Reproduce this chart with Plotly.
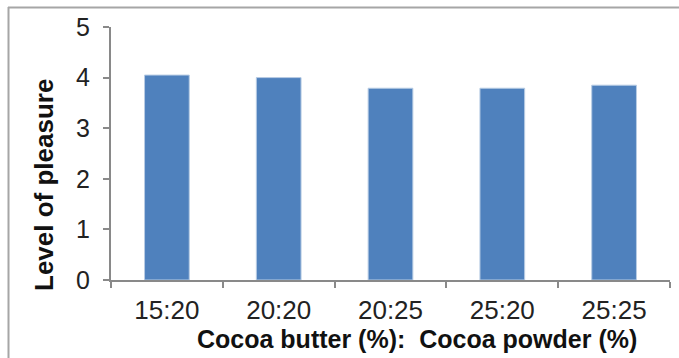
import plotly.graph_objects as go

categories = ["15:20", "20:20", "20:25", "25:20", "25:25"]
pleasure = [4.05, 4.0, 3.79, 3.79, 3.85]
y_ticks = [0, 1, 2, 3, 4, 5]

W, H = 679, 358
L, R, T, B = 111, 9, 27, 78
pw, ph = W - L - R, H - T - B

def px_x(px):
    return (px - L) / pw

def px_y(py):
    return (H - B - py) / ph

fig = go.Figure(go.Bar(
    x=categories, y=pleasure,
    marker=dict(color="#4F81BD", line=dict(color="#B8CCE4", width=1)),
    width=0.4,
))

fig.update_layout(
    width=W, height=H,
    margin=dict(l=L, r=R, t=T, b=B),
    paper_bgcolor="white", plot_bgcolor="white",
    showlegend=False,
    font=dict(family="Liberation Sans, Arial, sans-serif", color="#222222"),
    xaxis=dict(
        showline=True, linecolor="#898989", linewidth=2,
        ticks="outside", tickson="boundaries", ticklen=6, tickcolor="#898989", tickwidth=2,
        tickfont=dict(size=26, color="#222222"), ticklabelstandoff=6,
        showgrid=False, zeroline=False,
    ),
    yaxis=dict(
        range=[0, 5], tickvals=y_ticks,
        showline=True, linecolor="#898989", linewidth=2,
        ticks="outside", ticklen=6, tickcolor="#898989", tickwidth=2,
        tickfont=dict(size=25, color="#222222"), ticklabelstandoff=8,
        showgrid=False, zeroline=False,
    ),
    annotations=[
        dict(
            text="<b>Cocoa butter (%):  Cocoa powder (%)</b>",
            xref="paper", yref="paper", x=px_x(417), y=px_y(339),
            xanchor="center", yanchor="middle", showarrow=False,
            font=dict(size=25, color="#111111"),
        ),
        dict(
            text="<b>Level of pleasure</b>",
            xref="paper", yref="paper", x=px_x(44), y=px_y(185),
            xanchor="center", yanchor="middle", showarrow=False, textangle=-90,
            font=dict(size=26, color="#111111"),
        ),
    ],
    shapes=[
        dict(type="line", xref="paper", yref="paper",
             x0=px_x(8), x1=px_x(W + 2), y0=px_y(7.5), y1=px_y(7.5),
             line=dict(color="#A6A6A6", width=2)),
        dict(type="line", xref="paper", yref="paper",
             x0=px_x(8.5), x1=px_x(8.5), y0=px_y(7), y1=px_y(H + 2),
             line=dict(color="#A6A6A6", width=2)),
    ],
)

fig.write_html("out.html")
